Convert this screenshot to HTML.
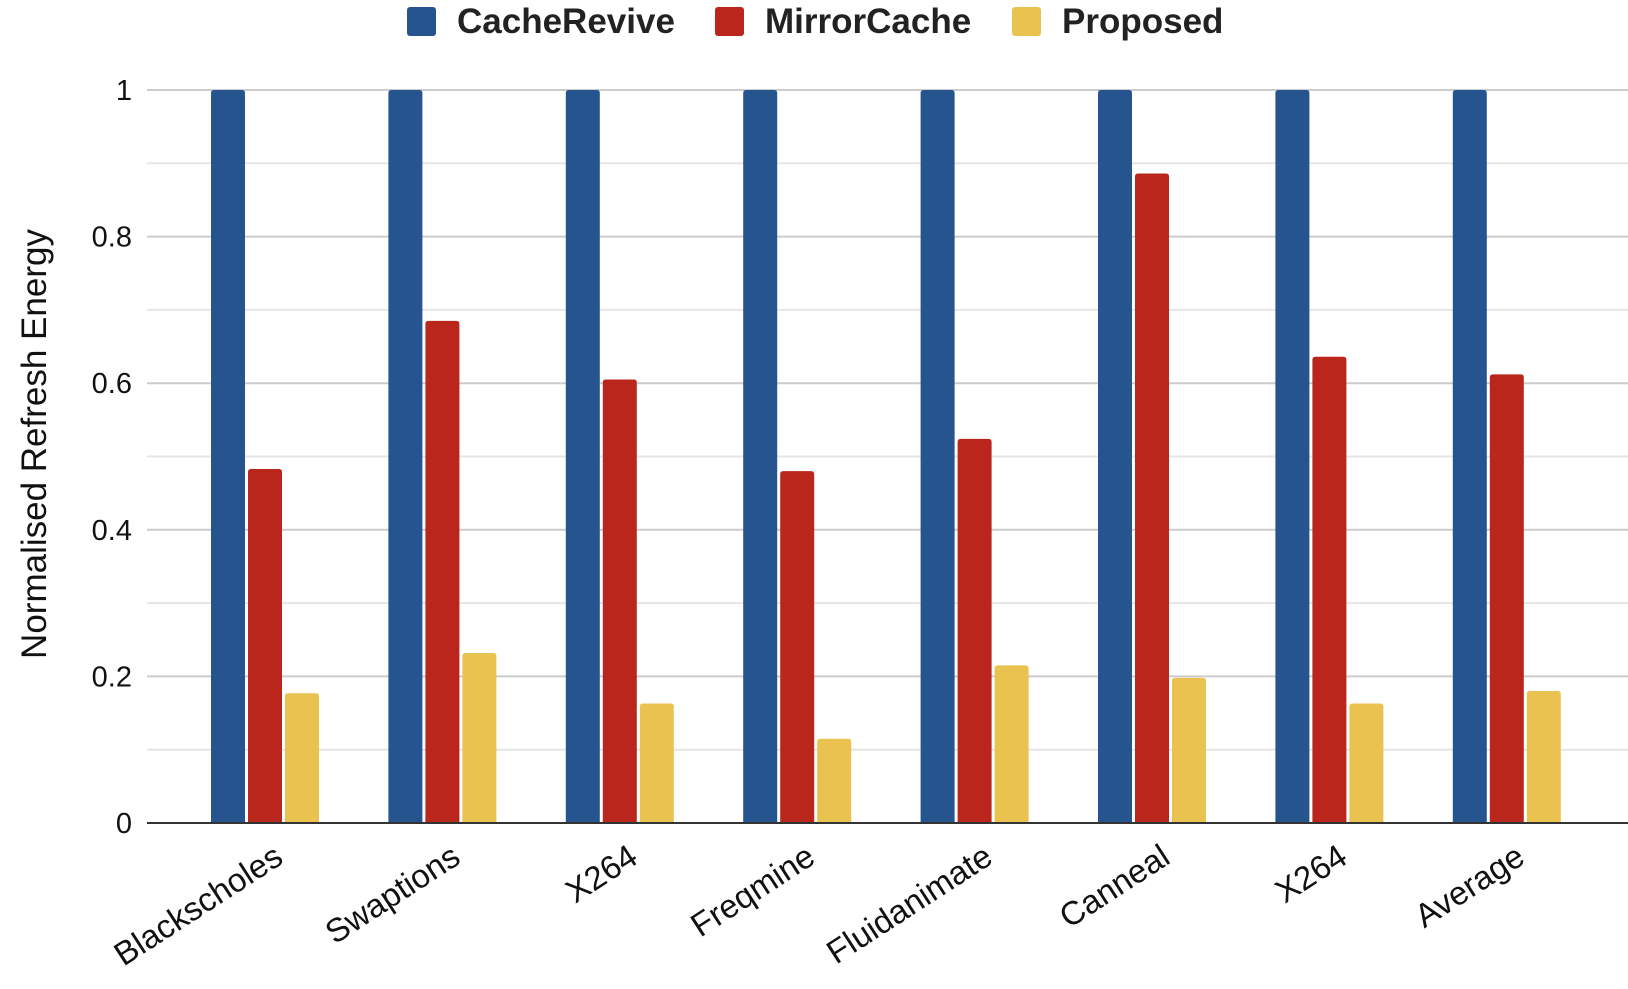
<!DOCTYPE html>
<html><head><meta charset="utf-8"><style>
body{margin:0;background:#fff;}
svg text{font-family:"Liberation Sans",Arial,sans-serif;}
</style></head><body>
<svg id="chart" width="1628" height="984" xmlns="http://www.w3.org/2000/svg">
<g>
 <g><rect x="407" y="7" width="29" height="29" rx="3" fill="#25548e"/><text x="457" y="33" font-size="35" font-weight="bold" fill="#222">CacheRevive</text></g>
 <g><rect x="715" y="7" width="29" height="29" rx="3" fill="#ba261c"/><text x="765" y="33" font-size="35" font-weight="bold" fill="#222">MirrorCache</text></g>
 <g><rect x="1012" y="7" width="29" height="29" rx="3" fill="#e9c250"/><text x="1062" y="33" font-size="35" font-weight="bold" fill="#222">Proposed</text></g>
</g>
<text transform="translate(46,444) rotate(-90)" text-anchor="middle" font-size="35" fill="#111">Normalised Refresh Energy</text>
<g id="grid"></g><g id="bars"></g><g id="labels"></g>
</svg>
<script>
const categories=["Blackscholes","Swaptions","X264","Freqmine","Fluidanimate","Canneal","X264","Average"];
const cacheRevive=[1,1,1,1,1,1,1,1];
const mirrorCache=[0.483,0.685,0.605,0.48,0.524,0.886,0.636,0.612];
const proposed=[0.177,0.232,0.163,0.115,0.215,0.198,0.163,0.180];
const yTicks=[0,0.2,0.4,0.6,0.8,1];
const yTickLabels=["0","0.2","0.4","0.6","0.8","1"];
const minorTicks=[0.1,0.3,0.5,0.7,0.9];
const NS="http://www.w3.org/2000/svg";
const y0=823,y1=90,xL=147,xR=1628,step=177.4,bw=34,gap=3,first=211;
const yS=v=>y0-(y0-y1)*v;
const xS=(i,s)=>first+i*step+s*(bw+gap);
function mk(t,a,p){const e=document.createElementNS(NS,t);for(const k in a)e.setAttribute(k,a[k]);p.appendChild(e);return e;}
const grid=document.getElementById('grid'),bars=document.getElementById('bars'),labels=document.getElementById('labels');
minorTicks.forEach(v=>{const l=mk('line',{x1:xL,x2:xR,y1:yS(v),y2:yS(v),stroke:'#e6e6e6','stroke-width':2},grid);

});
yTicks.forEach((v,i)=>{if(v>0){const l=mk('line',{x1:xL,x2:xR,y1:yS(v),y2:yS(v),stroke:'#cccccc','stroke-width':2},grid);

}
const t=mk('text',{x:132,y:yS(v)+10,'text-anchor':'end','font-size':29,fill:'#111'},grid);t.textContent=yTickLabels[i];

});
const series=[[cacheRevive,'#25548e','cacherevive'],[mirrorCache,'#ba261c','mirrorcache'],[proposed,'#e9c250','proposed']];
categories.forEach((c,i)=>{series.forEach((s,j)=>{const v=s[0][i];
const r=mk('path',{d:`M${xS(i,j)},${y0}V${yS(v)+3}Q${xS(i,j)},${yS(v)} ${xS(i,j)+3},${yS(v)}H${xS(i,j)+bw-3}Q${xS(i,j)+bw},${yS(v)} ${xS(i,j)+bw},${yS(v)+3}V${y0}Z`,fill:s[1]},bars);

});
const t=mk('text',{transform:`translate(${first+i*step+74},862) rotate(-33)`,'text-anchor':'end','font-size':33,fill:'#111'},labels);t.textContent=c;

});
const ax=mk('line',{x1:xL,x2:xR,y1:y0,y2:y0,stroke:'#333','stroke-width':2},document.getElementById('chart'));


</script>
</body></html>
